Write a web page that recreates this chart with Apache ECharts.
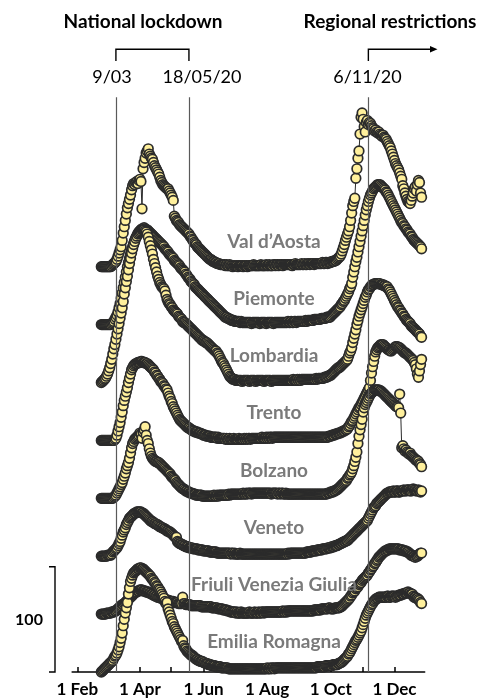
<!DOCTYPE html>
<html>
<head>
<meta charset="utf-8">
<script src="https://cdn.jsdelivr.net/npm/echarts@6/dist/echarts.min.js"></script>
<style>
  html, body { margin: 0; padding: 0; background: #ffffff; }
  #main { width: 484px; height: 698px; }
</style>
</head>
<body>
<div id="main"></div>
<script>
// Daily series per region, starting 24 Feb 2020, one value per day (ridgeline, stacked top to bottom)
const regionNames = ['Val d\u2019Aosta', 'Piemonte', 'Lombardia', 'Trento', 'Bolzano', 'Veneto', 'Friuli Venezia Giulia', 'Emilia Romagna'];
const firstDay = [2020, 1, 24];

const valdAosta = [
  0,0,0,0,0,0,0,0,0,0,
  1,2,3,4,5,7,10,13,16,19,
  25,32,38,44,50,56,60,64,68,73,
  77,79,78,80,81,79,82,83,81,55,
  93,99,103,108,110,112,107,105,103,102,
  99,96,94,92,90,88,85,82,80,78,
  77,76,75,74,74,72,70,68,66,63,
  48,46,44,43,42,40,39,38,37,36,
  35,34,33,32,31,29,28,26,25,23,
  22,21,19,18,17,16,15,14,13,12,
  11,10,9,8,7,7,6,5,5,4,
  4,3,3,3,2,2,2,2,2,1,
  2,1,1,2,1,1,0,1,1,1,
  1,0,1,1,1,1,0,1,1,1,
  0,1,1,1,1,1,2,1,1,1,
  1,1,1,2,1,1,1,1,2,1,
  1,2,1,1,1,2,2,1,2,2,
  1,2,2,2,1,2,2,2,2,2,
  2,2,2,1,2,2,3,2,2,2,
  2,2,3,2,2,3,2,2,3,3,
  2,3,3,3,2,3,3,3,3,3,
  3,3,4,3,3,4,4,3,4,4,
  4,5,5,5,6,6,7,8,9,10,
  12,15,18,21,25,28,31,34,38,44,
  51,58,62,65,84,93,103,110,126,142,
  146,140,133,128,137,139,135,137,136,134,
  132,131,129,130,128,127,128,126,125,124,
  125,123,122,121,119,117,115,113,110,107,
  104,101,98,96,94,92,89,86,83,77,
  74,70,67,64,62,61,60,63,67,70,
  74,76,72,78,82,80,70,66
];

const piemonte = [
  0,0,0,0,0,0,0,0,0,0,
  1,2,3,5,7,9,12,16,20,25,
  30,35,40,45,50,55,59,63,67,71,
  74,77,80,82,84,86,88,89,90,91,
  91,92,91,90,90,89,88,87,86,85,
  84,83,82,81,80,79,78,77,76,75,
  74,72,71,70,69,67,66,65,64,63,
  61,60,59,58,57,56,54,53,52,51,
  50,48,47,45,44,43,41,40,39,38,
  36,35,34,33,32,31,30,29,28,27,
  26,25,24,23,22,21,20,19,18,17,
  16,15,14,13,12,11,10,9,8,7,
  7,6,6,5,5,4,4,4,3,3,
  3,3,3,2,3,2,2,2,2,2,
  2,2,2,2,1,2,2,2,2,2,
  2,2,1,2,2,2,2,2,1,2,
  2,2,2,2,2,1,2,2,2,2,
  2,2,2,2,2,2,2,2,2,3,
  2,2,3,2,2,3,3,2,3,3,
  3,3,3,3,3,3,4,3,4,4,
  4,4,4,4,5,5,5,5,5,5,
  5,6,6,6,6,6,7,7,7,7,
  8,9,10,11,12,13,14,15,16,17,
  19,20,22,23,25,27,29,31,34,36,
  39,45,50,55,60,64,69,74,79,84,
  89,94,99,104,109,113,117,120,123,125,
  127,129,130,131,132,133,133,133,132,131,
  130,129,128,126,125,123,121,119,117,115,
  113,111,109,107,105,103,101,99,97,96,
  94,93,91,90,88,87,86,84,83,81,
  80,79,78,77,76,75,74,72
];

const lombardia = [
  0,1,2,3,4,6,8,11,14,18,
  22,27,32,36,41,46,51,56,61,66,
  71,77,84,90,96,101,107,113,118,123,
  127,131,134,137,139,141,142,143,144,145,
  145,145,144,143,141,138,134,130,126,122,
  117,113,109,105,101,98,95,93,91,90,
  89,87,83,79,77,75,74,72,71,69,
  68,67,66,65,63,62,61,60,58,57,
  57,56,55,54,53,52,51,50,49,48,
  47,46,45,44,43,42,41,40,40,39,
  38,38,37,36,35,34,33,32,31,30,
  30,28,27,25,23,21,19,18,16,14,
  12,10,8,6,5,4,3,3,3,2,
  2,2,2,2,2,1,2,2,2,2,
  2,2,1,2,2,2,2,2,1,2,
  2,2,2,2,2,2,1,2,2,2,
  2,2,2,1,2,2,2,2,2,2,
  2,2,2,2,2,2,2,2,2,2,
  2,2,2,2,3,2,2,2,3,2,
  3,2,3,3,3,3,3,3,3,3,
  3,3,3,3,3,3,4,3,4,4,
  4,4,4,4,5,5,5,6,6,7,
  7,8,9,10,11,12,13,14,14,15,
  16,17,18,19,20,21,22,25,28,30,
  33,38,42,46,50,55,59,63,66,69,
  72,75,78,81,83,86,88,89,91,92,
  93,93,94,94,94,94,94,94,93,93,
  93,92,92,91,91,89,88,86,84,82,
  80,78,76,74,72,71,69,68,66,65,
  63,62,60,59,58,57,56,54,53,52,
  51,50,49,48,47,46,44,43
];

const trento = [
  0,0,0,0,0,0,0,0,0,0,
  0,0,0,1,2,5,9,13,17,22,
  27,33,38,42,46,50,55,59,63,67,
  69,71,72,73,73,74,74,74,75,75,
  74,74,74,73,73,72,71,70,69,68,
  67,65,64,62,61,59,58,56,55,54,
  52,51,49,48,45,42,40,37,35,32,
  30,28,26,24,22,20,19,18,17,16,
  15,14,13,12,12,11,10,10,9,9,
  8,8,8,7,7,7,6,6,5,5,
  5,4,4,4,4,3,3,3,3,3,
  3,2,3,2,2,2,2,2,2,1,
  2,1,1,2,1,1,1,2,1,1,
  1,1,2,1,1,1,1,2,1,2,
  1,2,2,1,2,2,2,2,2,2,
  2,2,2,2,3,2,2,2,3,2,
  3,2,3,3,2,3,3,3,3,3,
  3,3,3,3,3,3,3,3,3,3,
  3,3,3,3,3,3,3,3,3,3,
  3,3,3,3,3,3,3,3,3,3,
  3,3,3,3,3,3,3,3,3,3,
  3,3,3,3,3,3,3,3,4,4,
  4,5,5,5,6,6,6,7,7,7,
  8,8,9,9,10,10,11,13,14,16,
  18,19,21,23,25,27,29,31,32,34,
  36,38,40,42,44,46,48,50,57,64,
  70,75,80,84,86,88,89,90,91,91,
  91,90,89,88,87,86,86,85,85,86,
  87,88,89,89,89,88,88,87,86,85,
  84,83,83,82,81,80,79,78,77,76,
  74,72,68,63,60,66,72,77
];

const bolzano = [
  0,0,0,0,0,0,0,0,0,0,
  0,0,1,2,3,5,7,9,11,13,
  15,18,21,24,28,31,34,38,43,48,
  52,54,56,57,58,59,60,62,61,57,
  63,65,68,60,55,52,47,43,40,38,
  37,36,35,35,34,34,33,32,31,30,
  29,28,27,26,25,24,23,21,20,19,
  18,17,15,14,13,12,11,10,9,9,
  8,7,7,6,6,5,5,5,4,4,
  4,3,3,3,3,3,3,2,2,2,
  2,2,2,2,2,2,2,2,3,2,
  2,3,2,3,3,3,3,3,3,3,
  3,3,4,3,4,4,4,4,4,4,
  4,4,4,4,4,4,5,4,4,5,
  4,5,5,5,4,5,5,5,5,5,
  5,5,5,5,5,5,5,5,5,5,
  5,5,5,4,5,5,5,5,5,4,
  5,5,4,5,5,4,4,5,4,4,
  4,4,4,4,4,4,4,4,4,4,
  4,4,4,4,4,4,4,4,4,4,
  4,4,4,4,4,4,4,4,4,4,
  4,4,4,4,4,4,4,5,5,5,
  6,6,6,7,7,8,8,9,10,11,
  12,13,14,15,16,17,19,20,22,23,
  25,28,31,35,39,44,52,59,65,70,
  75,82,86,89,91,93,95,97,99,100,
  101,102,103,103,103,103,103,102,102,101,
  100,99,98,97,96,95,94,93,92,91,
  90,89,88,87,87,86,99,81,48,50,
  47,45,46,44,43,42,43,41,40,39,
  38,37,36,36,35,33,32,30
];

const veneto = [
  0,0,0,0,0,0,1,1,1,1,
  2,4,5,6,7,8,10,12,14,17,
  20,23,25,27,30,32,34,36,37,38,
  39,40,41,41,42,42,42,42,42,41,
  41,40,39,38,37,36,35,34,33,33,
  32,31,31,30,30,29,28,28,27,27,
  26,26,25,24,24,23,23,22,21,20,
  19,18,18,14,13,12,12,11,11,10,
  10,9,9,9,8,8,8,8,7,7,
  7,7,7,6,6,6,6,6,5,5,
  5,5,5,5,4,4,4,4,4,4,
  4,3,3,3,3,3,3,3,3,3,
  3,3,3,3,2,3,3,2,3,2,
  2,2,2,3,2,2,2,2,2,2,
  2,2,2,2,2,2,2,2,2,2,
  2,2,2,2,2,2,2,2,2,2,
  2,2,2,2,2,2,2,2,2,2,
  2,2,2,2,2,2,2,2,2,3,
  2,3,3,3,3,3,3,3,3,3,
  3,3,3,3,3,3,3,4,4,4,
  4,4,5,5,5,5,5,6,6,6,
  6,6,7,7,7,7,7,8,8,8,
  8,9,9,9,10,10,10,11,11,12,
  12,13,13,14,14,15,15,16,17,18,
  19,20,21,22,23,24,25,26,27,28,
  29,30,31,32,33,34,36,38,40,42,
  44,46,47,48,50,51,52,53,54,55,
  56,57,58,59,60,60,61,61,61,61,
  62,61,61,62,62,61,61,62,62,62,
  63,62,62,63,63,63,62,62,63,64,
  63,63,62,62,63,62,61,62
];

const friuli = [
  0,0,0,0,0,1,1,1,1,1,
  2,2,2,3,3,4,5,6,7,8,
  9,9,10,11,12,13,14,15,16,17,
  18,19,20,21,21,22,22,23,23,23,
  22,22,22,21,21,21,20,20,19,19,
  18,18,17,17,16,16,16,15,15,15,
  14,14,14,13,13,13,12,12,12,12,
  11,11,11,11,10,10,10,10,16,10,
  10,9,9,9,9,9,8,8,8,8,
  8,8,8,8,8,8,7,7,7,7,
  7,7,7,7,7,7,6,6,6,6,
  6,6,5,5,5,5,5,4,4,4,
  4,3,3,3,2,2,2,2,2,1,
  2,1,1,1,2,1,1,1,1,1,
  1,1,2,1,1,1,1,2,1,1,
  1,2,1,1,2,2,1,2,2,2,
  2,2,2,2,2,2,2,2,2,2,
  2,2,2,2,3,2,2,3,2,3,
  3,3,3,3,3,3,3,3,3,3,
  3,3,3,3,3,3,3,3,3,3,
  3,3,3,3,4,4,4,4,4,4,
  4,5,5,5,5,5,5,5,6,6,
  5,5,5,5,6,6,6,6,6,7,
  7,8,9,10,11,12,13,14,15,17,
  18,20,21,22,24,25,26,28,29,30,
  32,33,34,35,36,37,39,40,42,43,
  45,46,48,49,51,52,54,55,56,57,
  58,59,60,60,61,61,62,62,62,62,
  62,62,62,62,62,62,61,61,61,61,
  60,60,60,59,59,58,57,56,56,55,
  55,54,55,55,56,57,58,58
];

const emilia = [
  0,1,2,3,4,5,6,7,8,9,
  10,11,13,15,16,18,21,24,28,32,
  37,44,50,56,61,66,74,80,86,89,
  92,94,95,96,97,98,98,99,99,98,
  98,97,96,95,94,93,92,91,89,88,
  87,85,84,82,81,79,78,76,74,72,
  70,67,65,66,60,57,54,51,48,46,
  43,41,39,37,35,33,31,29,30,25,
  23,22,20,19,18,17,16,16,15,14,
  13,12,12,11,11,10,10,10,9,9,
  8,8,8,7,7,7,6,6,6,6,
  5,5,5,5,5,4,4,4,4,4,
  4,4,3,3,3,3,3,3,3,3,
  3,3,3,3,3,3,3,3,3,3,
  3,3,3,3,3,3,3,3,3,3,
  3,3,3,3,3,3,3,3,3,4,
  3,3,4,3,4,4,3,4,4,4,
  4,4,4,4,4,4,4,4,4,4,
  4,4,4,4,4,4,4,4,4,4,
  4,4,4,4,4,4,4,4,4,4,
  4,4,4,4,4,4,4,5,5,5,
  5,5,5,5,5,6,6,6,6,6,
  6,6,7,7,7,7,7,8,8,9,
  9,10,11,12,13,14,15,17,18,20,
  22,24,26,28,30,31,33,35,37,39,
  42,45,48,51,54,56,58,60,62,64,
  65,67,68,69,70,70,71,71,71,71,
  71,71,71,71,72,72,71,71,72,72,
  72,72,71,72,72,73,73,73,74,74,
  74,75,75,75,76,75,75,74,74,72,
  71,71,70,70,69,68,66,65
];

const regionValues = [valdAosta, piemonte, lombardia, trento, bolzano, veneto, friuli, emilia];

// Vertical gap between neighbouring ridges, in data units
const ridgeStep = 55;

// Policy dates drawn as vertical rules, with their labels
const eventDates = [[2020, 2, 9], [2020, 4, 18], [2020, 10, 6]];
const eventLabels = ['9/03', '18/05/20', '6/11/20'];
const eventLabelX = [112, 202, 367.5];

const monthNames = ['Jan', 'Feb', 'Mar', 'Apr', 'May', 'Jun', 'Jul', 'Aug', 'Sep', 'Oct', 'Nov', 'Dec'];
const scaleBarValue = 100;

const xMin = new Date(2020, 0, 27).getTime();
const xMax = new Date(2020, 11, 30).getTime();
const yMax = 550;

const fillColor = '#fff09c';
const edgeColor = '#2b2b2b';
const labelFont = 'Lato, "Open Sans", sans-serif';

function dayTime(i) {
  return new Date(firstDay[0], firstDay[1], firstDay[2] + i).getTime();
}

const nRegions = regionNames.length;

const ridgeSeries = regionValues.map((vals, r) => {
  const base = (nRegions - 1 - r) * ridgeStep;
  return {
    type: 'line',
    name: regionNames[r],
    data: vals.map((v, i) => [dayTime(i), base + v]),
    symbol: 'circle',
    symbolSize: 9.6,
    showAllSymbol: true,
    itemStyle: { color: fillColor, borderColor: edgeColor, borderWidth: 1.7 },
    lineStyle: { color: edgeColor, width: 1 },
    emphasis: { disabled: true },
    silent: true,
    z: 3
  };
});

const ruleSeries = {
  type: 'line',
  data: [],
  silent: true,
  z: 1,
  markLine: {
    silent: true,
    symbol: ['none', 'none'],
    label: { show: false },
    lineStyle: { color: '#5a5a5a', width: 1.2, type: 'solid' },
    data: eventDates.map(d => {
      const t = new Date(d[0], d[1], d[2]).getTime();
      return [{ coord: [t, 0] }, { coord: [t, 546] }];
    })
  }
};

const chart = echarts.init(document.getElementById('main'), null, { renderer: 'canvas' });

const option = {
  animation: false,
  backgroundColor: '#ffffff',
  grid: { left: 72.1, right: 59.3, top: 93, bottom: 26, containLabel: false },
  xAxis: {
    type: 'time',
    min: xMin,
    max: xMax,
    splitNumber: 11,
    minInterval: 28 * 24 * 3600 * 1000,
    maxInterval: 31 * 24 * 3600 * 1000,
    axisLine: { show: true, lineStyle: { color: '#000000', width: 1.5 } },
    axisTick: { show: true, inside: true, length: 5, lineStyle: { color: '#000000', width: 1.5 } },
    splitLine: { show: false },
    axisLabel: {
      show: true,
      margin: 9,
      color: '#000000',
      fontFamily: labelFont,
      fontWeight: 'bold',
      fontSize: 17,
      showMinLabel: false,
      showMaxLabel: false,
      hideOverlap: false,
      formatter: function (value) {
        const d = new Date(value);
        const m = d.getMonth();
        if (d.getDate() !== 1 || m % 2 !== 1) return '';
        return '1 ' + monthNames[m];
      }
    }
  },
  yAxis: {
    type: 'value',
    min: 0,
    max: yMax,
    show: false,
    splitLine: { show: false }
  },
  series: [ruleSeries].concat(ridgeSeries)
};

chart.setOption(option);

// Annotations placed from the axis scales
const xPx = t => chart.convertToPixel({ xAxisIndex: 0 }, t);
const yPx = v => chart.convertToPixel({ yAxisIndex: 0 }, v);

const eventPx = eventDates.map(d => xPx(new Date(d[0], d[1], d[2]).getTime()));
const bracketTop = 49.3;
const bracketFoot = 61;
const scaleX = 55;

const graphics = [];

graphics.push({
  type: 'text', x: 143, y: 22,
  style: { text: 'National lockdown', fill: '#000', font: 'bold 19px ' + labelFont, textAlign: 'center', textVerticalAlign: 'middle' }
});
graphics.push({
  type: 'text', x: 390, y: 22,
  style: { text: 'Regional restrictions', fill: '#000', font: 'bold 19px ' + labelFont, textAlign: 'center', textVerticalAlign: 'middle' }
});

// Lockdown bracket
graphics.push({
  type: 'polyline',
  shape: { points: [[eventPx[0], bracketFoot], [eventPx[0], bracketTop], [eventPx[1], bracketTop], [eventPx[1], bracketFoot]] },
  style: { stroke: '#000', lineWidth: 1.4, fill: null }
});
// Restrictions arrow
graphics.push({
  type: 'polyline',
  shape: { points: [[eventPx[2], bracketFoot], [eventPx[2], bracketTop], [431, bracketTop]] },
  style: { stroke: '#000', lineWidth: 1.4, fill: null }
});
graphics.push({
  type: 'polygon',
  shape: { points: [[430, bracketTop - 3.2], [437.5, bracketTop], [430, bracketTop + 3.2]] },
  style: { fill: '#000' }
});

eventLabels.forEach((txt, k) => {
  graphics.push({
    type: 'text', x: eventLabelX[k], y: 77,
    style: { text: txt, fill: '#000', font: '18px ' + labelFont, textAlign: 'center', textVerticalAlign: 'middle' }
  });
});

// Region names, sitting a little above each ridge's baseline
regionNames.forEach((name, r) => {
  const base = (nRegions - 1 - r) * ridgeStep;
  graphics.push({
    type: 'text', x: 274, y: yPx(base) - 30 + base * 0.013,
    z: 10,
    style: { text: name, fill: '#7a7a7a', font: 'bold 19px ' + labelFont, textAlign: 'center', textVerticalAlign: 'middle' }
  });
});

// Scale bar for 100 units
const y0 = yPx(0);
const y100 = yPx(scaleBarValue);
graphics.push({
  type: 'polyline',
  shape: { points: [[scaleX - 6, y100], [scaleX, y100], [scaleX, y0], [scaleX - 6, y0]] },
  style: { stroke: '#000', lineWidth: 1.4, fill: null }
});
graphics.push({
  type: 'text', x: 29, y: (y0 + y100) / 2,
  style: { text: String(scaleBarValue), fill: '#000', font: 'bold 16px ' + labelFont, textAlign: 'center', textVerticalAlign: 'middle' }
});

chart.setOption({ graphic: { elements: graphics } });
</script>
</body>
</html>
